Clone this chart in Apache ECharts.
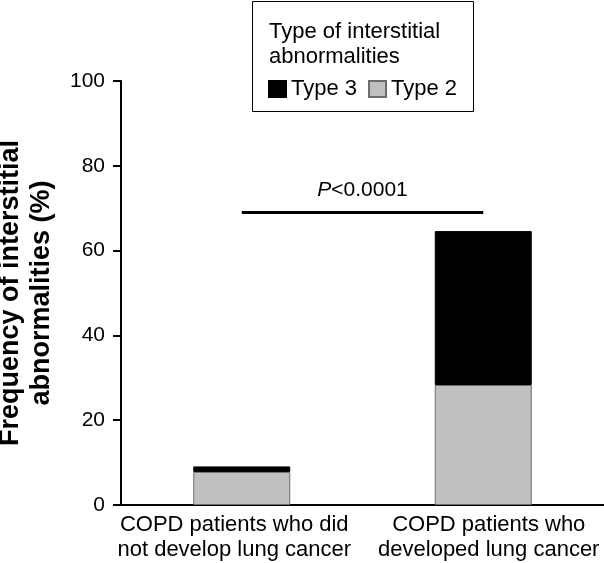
<!DOCTYPE html>
<html>
<head>
<meta charset="utf-8">
<script src="https://cdn.jsdelivr.net/npm/echarts@6/dist/echarts.min.js"></script>
<style>html,body{margin:0;padding:0;background:#fff;}#c{width:604px;height:563px;}</style>
</head>
<body>
<div id="c"></div>
<script>
var categories = ['COPD patients who did\nnot develop lung cancer', 'COPD patients who\ndeveloped lung cancer'];
var type2 = [7.8, 28.3];
var type3 = [1.3, 36.3];
var yTicks = {min: 0, max: 100, interval: 20};
var sigLevel = 69;
var sigText = 'P<0.0001';

var FONT = 'Liberation Sans, Arial, sans-serif';
// small horizontal nudges of the category labels (padding on centered text)
var labelPads = [[0, 15, 0, 0], [0, 0, 0, 11]];
var catData = categories.map(function (c, i) {
  return {value: c, textStyle: {padding: labelPads[i]}};
});

var chart = echarts.init(document.getElementById('c'), null, {renderer: 'canvas'});
chart.setOption({
  animation: false,
  backgroundColor: '#fff',
  textStyle: {fontFamily: FONT, color: '#000'},
  title: {
    text: 'Type of interstitial\nabnormalities',
    left: 264, top: 14,
    textStyle: {fontFamily: FONT, fontSize: 22, fontWeight: 'normal', color: '#000', lineHeight: 25}
  },
  legend: {
    data: ['Type 3', 'Type 2'],
    left: 263, top: 73, icon: 'rect',
    itemWidth: 17, itemHeight: 16, itemGap: 11,
    textStyle: {fontFamily: FONT, fontSize: 22, color: '#000'}
  },
  graphic: [{
    type: 'rect', shape: {x: 252.5, y: 1.5, width: 221, height: 110},
    style: {fill: 'none', stroke: '#000', lineWidth: 1}, z: 1
  }],
  grid: {left: 121, right: 0, top: 81, bottom: 58, outerBoundsMode: 'none', containLabel: false},
  xAxis: {
    type: 'category', data: catData,
    axisLine: {lineStyle: {color: '#000', width: 2}},
    axisTick: {show: false},
    axisLabel: {color: '#000', fontFamily: FONT, fontSize: 22, lineHeight: 25, margin: 7, interval: 0}
  },
  yAxis: {
    type: 'value', min: yTicks.min, max: yTicks.max, interval: yTicks.interval,
    name: 'Frequency of interstitial\nabnormalities (%)',
    nameLocation: 'middle', nameGap: 64,
    nameTextStyle: {fontFamily: FONT, fontSize: 27, fontWeight: 'bold', color: '#000', lineHeight: 31},
    axisLine: {show: true, lineStyle: {color: '#000', width: 2}},
    axisTick: {show: true, length: 8, lineStyle: {color: '#000', width: 2}},
    axisLabel: {color: '#000', fontFamily: FONT, fontSize: 21, margin: 16},
    splitLine: {show: false}
  },
  series: [{
    name: 'Type 2', type: 'bar', stack: 's', data: type2, barWidth: 97,
    itemStyle: {color: '#c0c0c0', borderColor: '#6b6b6b', borderWidth: 1},
    markLine: {
      silent: true, symbol: 'none',
      lineStyle: {color: '#000', width: 3, type: 'solid'},
      label: {
        show: true, position: 'middle', distance: 12,
        formatter: '{i|P}<0.0001',
        color: '#000', fontFamily: FONT, fontSize: 21,
        rich: {i: {fontStyle: 'italic', fontFamily: FONT, fontSize: 21, color: '#000'}}
      },
      data: [[{coord: [0, sigLevel]}, {coord: [1, sigLevel]}]]
    }
  }, {
    name: 'Type 3', type: 'bar', stack: 's', data: type3, barWidth: 97,
    itemStyle: {color: '#000', borderColor: '#000', borderWidth: 1}
  }]
});
</script>
</body>
</html>
